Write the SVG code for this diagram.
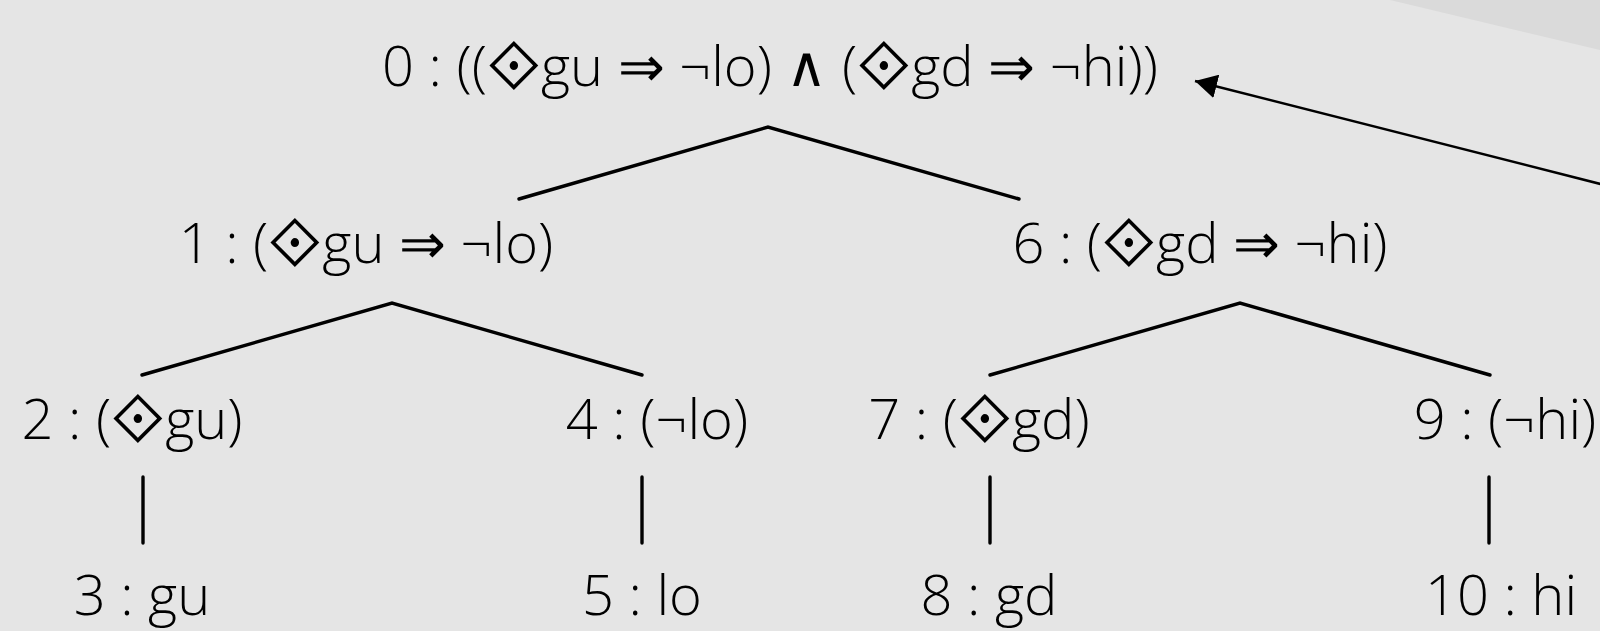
<svg xmlns="http://www.w3.org/2000/svg" width="1600" height="631" viewBox="0 0 1600 631">
<defs>
<style>
.t{font-family:"Open Sans","DejaVu Sans",sans-serif;font-weight:300;font-size:56px;fill:#000;text-anchor:middle}
.d{font-family:"DejaVu Sans",sans-serif;font-size:68px;font-weight:400}
.e{stroke:#000;stroke-width:3.4;fill:none;stroke-linecap:round;stroke-linejoin:miter}
.a{stroke:#000;stroke-width:2.5;fill:none}
</style>
<marker id="arr" viewBox="0 0 22 24" refX="22" refY="12" markerWidth="22" markerHeight="24" markerUnits="userSpaceOnUse" orient="auto">
<path d="M0,0 L22,12 L0,24 z" fill="#000"/>
</marker>
</defs>
<rect width="1600" height="631" fill="#e5e5e5"/>
<polygon points="1390,0 1600,50 1600,0" fill="#dadada"/>
<g id="connectors">
<polyline class="e" points="519,199 768,127 1019,199"/>
<polyline class="e" points="142,375 392,303 642,375"/>
<polyline class="e" points="990,375 1240,303 1490,375"/>
<line class="e" x1="143" y1="477" x2="143" y2="543"/>
<line class="e" x1="642" y1="477" x2="642" y2="543"/>
<line class="e" x1="990" y1="477" x2="990" y2="543"/>
<line class="e" x1="1489" y1="477" x2="1489" y2="543"/>
<line class="a" x1="1640" y1="194" x2="1195" y2="81" marker-end="url(#arr)"/>
</g>
<g id="n0"><text class="t" x="770" y="86">0 : ((<tspan class="d" dy="3">⟐</tspan><tspan dy="-3">gu ⇒ ¬lo) ∧ (</tspan><tspan class="d" dy="3">⟐</tspan><tspan dy="-3">gd ⇒ ¬hi))</tspan></text></g>
<g id="n1"><text class="t" x="366" y="263">1 : (<tspan class="d" dy="3">⟐</tspan><tspan dy="-3">gu ⇒ ¬lo)</tspan></text></g>
<g id="n6"><text class="t" x="1200" y="263">6 : (<tspan class="d" dy="3">⟐</tspan><tspan dy="-3">gd ⇒ ¬hi)</tspan></text></g>
<g id="n2"><text class="t" x="132" y="439">2 : (<tspan class="d" dy="3">⟐</tspan><tspan dy="-3">gu)</tspan></text></g>
<g id="n4"><text class="t" x="657" y="439">4 : (¬lo)</text></g>
<g id="n7"><text class="t" x="979" y="439">7 : (<tspan class="d" dy="3">⟐</tspan><tspan dy="-3">gd)</tspan></text></g>
<g id="n9"><text class="t" x="1505" y="439">9 : (¬hi)</text></g>
<g id="n3"><text class="t" x="142" y="615">3 : gu</text></g>
<g id="n5"><text class="t" x="642" y="615">5 : lo</text></g>
<g id="n8"><text class="t" x="989" y="615">8 : gd</text></g>
<g id="n10"><text class="t" x="1501" y="615">10 : hi</text></g>
</svg>
